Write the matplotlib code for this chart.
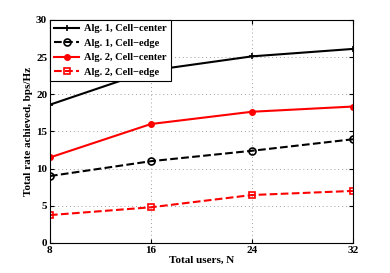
import matplotlib
matplotlib.use("Agg")
import matplotlib.pyplot as plt

users = [8, 16, 24, 32]
alg1_center = [18.6, 23.2, 25.1, 26.1]
alg1_edge = [9.0, 11.0, 12.4, 13.95]
alg2_center = [11.5, 16.0, 17.65, 18.35]
alg2_edge = [3.75, 4.8, 6.45, 7.0]
labels = ["Alg. 1, Cell\u2212center", "Alg. 1, Cell\u2212edge",
          "Alg. 2, Cell\u2212center", "Alg. 2, Cell\u2212edge"]
yticks = [0, 5, 10, 15, 20, 25, 30]

plt.rcParams['font.family'] = ['Liberation Serif', 'DejaVu Serif']
plt.rcParams['font.weight'] = 'bold'

fig = plt.figure(figsize=(3.9, 2.73), dpi=100)
ax = fig.add_axes([0.128, 0.110, 0.777, 0.817])

ax.plot(users, alg1_center, '-', color='black', lw=1.5, marker='+', ms=5, mew=1.2, label=labels[0])
ax.plot(users, alg1_edge, '--', color='black', lw=1.5, marker='o', ms=5, mfc='none', mew=1.2, label=labels[1])
ax.plot(users, alg2_center, '-', color='red', lw=1.5, marker='o', ms=4, mfc='red', mew=1.0, label=labels[2])
ax.plot(users, alg2_edge, '--', color='red', lw=1.5, marker='s', ms=4.5, mfc='none', mew=1.2, label=labels[3])

ax.set_xlim(8, 32)
ax.set_ylim(0, 30)
ax.set_xticks(users)
ax.set_yticks(yticks)
ax.grid(True, linestyle=(0, (1, 3)), color='#a0a0a0', lw=0.7)
ax.tick_params(direction='in', top=True, right=True, labelsize=8, length=3, pad=2)
for lab in ax.get_xticklabels() + ax.get_yticklabels():
    lab.set_fontweight('bold')
ax.set_xlabel("Total users, N", fontsize=8, fontweight='bold', labelpad=1)
ax.set_ylabel("Total rate achieved, bps/Hz", fontsize=8, fontweight='bold', labelpad=2)

leg = ax.legend(loc='upper left', fontsize=7.5, fancybox=False, framealpha=1,
                edgecolor='black', borderaxespad=0.0, handlelength=2.4,
                labelspacing=0.5, borderpad=0.4, handletextpad=0.45)
leg.get_frame().set_linewidth(0.8)
for t in leg.get_texts():
    t.set_fontweight('bold')

fig.savefig("out.png", dpi=100)
